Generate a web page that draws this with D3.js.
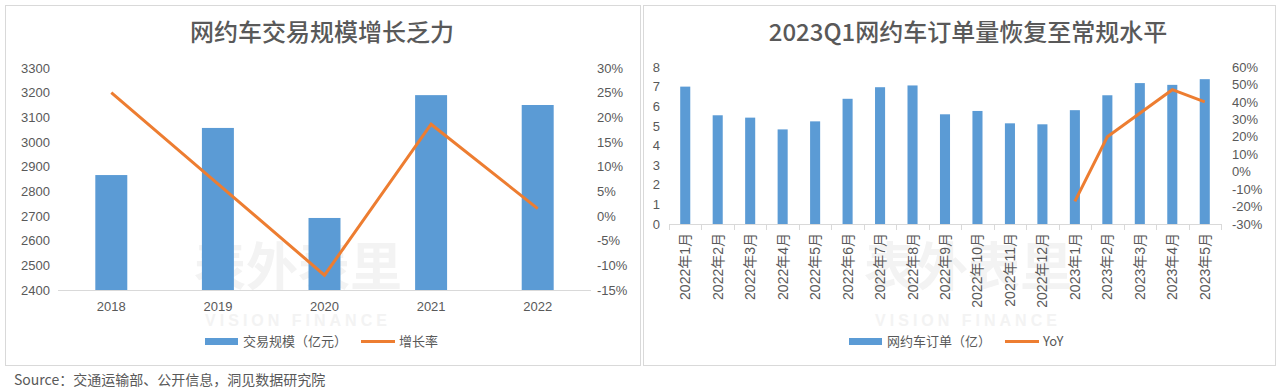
<!DOCTYPE html>
<html>
<head>
<meta charset="utf-8">
<script src="https://cdn.jsdelivr.net/npm/d3@7"></script>
<style>
  body { margin: 0; background: #fff; }
  text { font-family: "Liberation Sans", "Noto Sans CJK SC", sans-serif; }
</style>
</head>
<body>
<script>
// left chart data
var years = ['2018', '2019', '2020', '2021', '2022'];
var volume = [2866, 3057, 2692, 3190, 3150];
var growth = [0.25, 0.065, -0.12, 0.186, 0.015];
var volTicks = [2400, 2500, 2600, 2700, 2800, 2900, 3000, 3100, 3200, 3300];
var growthTicks = [-0.15, -0.10, -0.05, 0, 0.05, 0.10, 0.15, 0.20, 0.25, 0.30];

// right chart data
var months = ['2022年1月', '2022年2月', '2022年3月', '2022年4月', '2022年5月', '2022年6月',
  '2022年7月', '2022年8月', '2022年9月', '2022年10月', '2022年11月', '2022年12月',
  '2023年1月', '2023年2月', '2023年3月', '2023年4月', '2023年5月'];
var orders = [7.0, 5.54, 5.42, 4.82, 5.23, 6.38, 6.97, 7.06, 5.59, 5.76, 5.13, 5.08, 5.8, 6.56, 7.18, 7.09, 7.38];
var yoyMonths = ['2023年1月', '2023年2月', '2023年3月', '2023年4月', '2023年5月'];
var yoy = [-0.17, 0.20, 0.335, 0.47, 0.40];
var orderTicks = [0, 1, 2, 3, 4, 5, 6, 7, 8];
var yoyTicks = [-0.3, -0.2, -0.1, 0, 0.1, 0.2, 0.3, 0.4, 0.5, 0.6];

var w = 1280, h = 392;
var blue = '#5B9BD5', orange = '#ED7D31', grey = '#595959';

var svg = d3.select('body').append('svg')
  .attr('width', w)
  .attr('height', h);

// panel frames
svg.append('rect').attr('x', 5.5).attr('y', 5.5).attr('width', 635).attr('height', 360)
  .attr('fill', '#fff').attr('stroke', '#d9d9d9');
svg.append('rect').attr('x', 643.5).attr('y', 5.5).attr('width', 632).attr('height', 360)
  .attr('fill', '#fff').attr('stroke', '#d9d9d9');

// faint watermark
function watermark(cx, y1, y2) {
  svg.append('text').attr('x', cx).attr('y', y1).attr('text-anchor', 'middle')
    .attr('font-size', 52).attr('font-weight', 'bold').attr('fill', '#f3f3f3')
    .style('font-family', '"Noto Sans CJK SC"').text('表外表里');
  svg.append('text').attr('x', cx).attr('y', y2).attr('text-anchor', 'middle')
    .attr('font-size', 16).attr('font-weight', 'bold').attr('fill', '#f3f3f3')
    .attr('letter-spacing', 4).text('VISION FINANCE');
}
watermark(298, 286, 326);
watermark(968, 286, 326);

function title(cx, txt) {
  svg.append('text').attr('x', cx).attr('y', 41).attr('text-anchor', 'middle')
    .attr('font-size', 24).attr('font-weight', 500).attr('fill', grey)
    .style('font-family', '"Noto Sans CJK SC"').text(txt);
}
title(322, '网约车交易规模增长乏力');
title(968, '2023Q1网约车订单量恢复至常规水平');

function styleAxis(g) {
  g.select('.domain').remove();
  g.selectAll('.tick line').remove();
  g.selectAll('text').attr('fill', grey).attr('font-size', 13);
}

// ---------- left chart ----------
var x1 = d3.scaleBand().domain(years).range([58, 591]).paddingInner(0.7).paddingOuter(0.35);
var y1 = d3.scaleLinear().domain([2400, 3300]).range([290, 68]);
var y1r = d3.scaleLinear().domain([-0.15, 0.30]).range([290, 68]);

svg.append('g').attr('transform', 'translate(52,0)')
  .call(d3.axisLeft(y1).tickValues(volTicks).tickSize(0).tickPadding(2).tickFormat(d3.format('d')))
  .call(styleAxis);
svg.append('g').attr('transform', 'translate(595,0)')
  .call(d3.axisRight(y1r).tickValues(growthTicks).tickSize(0).tickPadding(2)
    .tickFormat(function (d) { return Math.round(d * 100) + '%'; }))
  .call(styleAxis);

svg.selectAll('rect.bar1').data(volume).enter().append('rect')
  .attr('class', 'bar1')
  .attr('x', function (d, i) { return x1(years[i]); })
  .attr('y', function (d) { return y1(d); })
  .attr('width', x1.bandwidth())
  .attr('height', function (d) { return y1(2400) - y1(d); })
  .attr('fill', blue);

svg.append('line').attr('x1', 58).attr('x2', 591)
  .attr('y1', y1(2400) + 0.5).attr('y2', y1(2400) + 0.5).attr('stroke', '#d9d9d9');

svg.append('g').attr('transform', 'translate(0,' + y1(2400) + ')')
  .call(d3.axisBottom(x1).tickSize(0).tickPadding(12))
  .call(styleAxis);

svg.append('path').datum(growth)
  .attr('fill', 'none').attr('stroke', orange).attr('stroke-width', 3)
  .attr('d', d3.line()
    .x(function (d, i) { return x1(years[i]) + x1.bandwidth() / 2; })
    .y(function (d) { return y1r(d); }));

// ---------- right chart ----------
var x2 = d3.scaleBand().domain(months).range([669, 1221]).paddingInner(0.69).paddingOuter(0.345);
var y2 = d3.scaleLinear().domain([0, 8]).range([224, 67]);
var y2r = d3.scaleLinear().domain([-0.3, 0.6]).range([224, 67]);

svg.append('g').attr('transform', 'translate(662,0)')
  .call(d3.axisLeft(y2).tickValues(orderTicks).tickSize(0).tickPadding(2))
  .call(styleAxis);
svg.append('g').attr('transform', 'translate(1230,0)')
  .call(d3.axisRight(y2r).tickValues(yoyTicks).tickSize(0).tickPadding(2)
    .tickFormat(function (d) { return Math.round(d * 100) + '%'; }))
  .call(styleAxis);

svg.selectAll('rect.bar2').data(orders).enter().append('rect')
  .attr('class', 'bar2')
  .attr('x', function (d, i) { return x2(months[i]); })
  .attr('y', function (d) { return y2(d); })
  .attr('width', x2.bandwidth())
  .attr('height', function (d) { return y2(0) - y2(d); })
  .attr('fill', blue);

// category axis with boundary ticks
var xAxis2 = svg.append('g').attr('transform', 'translate(0,' + y2(0) + ')');
xAxis2.append('line').attr('x1', 669).attr('x2', 1221).attr('y1', 0.5).attr('y2', 0.5).attr('stroke', '#d9d9d9');
var bounds = months.map(function (m) { return x2(m) - x2.step() * x2.paddingInner() / 2; });
bounds.push(1221);
xAxis2.selectAll('line.b').data(bounds).enter().append('line')
  .attr('class', 'b')
  .attr('x1', function (d) { return Math.round(d) + 0.5; })
  .attr('x2', function (d) { return Math.round(d) + 0.5; })
  .attr('y1', 0).attr('y2', 6).attr('stroke', '#d9d9d9');
xAxis2.selectAll('text.m').data(months).enter().append('text')
  .attr('class', 'm')
  .attr('transform', function (d) {
    return 'translate(' + (x2(d) + x2.bandwidth() / 2 + 5) + ',9) rotate(-90)';
  })
  .attr('text-anchor', 'end')
  .attr('font-size', 14).attr('fill', grey)
  .text(function (d) { return d; });

svg.append('path').datum(yoy)
  .attr('fill', 'none').attr('stroke', orange).attr('stroke-width', 3)
  .attr('d', d3.line()
    .x(function (d, i) { return x2(yoyMonths[i]) + x2.bandwidth() / 2; })
    .y(function (d) { return y2r(d); }));

// ---------- legends ----------
function legend(x, barLabel, lineLabel, lineX) {
  var g = svg.append('g');
  g.append('rect').attr('x', x).attr('y', 338).attr('width', 33).attr('height', 7).attr('fill', blue);
  g.append('text').attr('x', x + 38).attr('y', 346).attr('font-size', 13).attr('fill', grey)
    .style('font-family', '"Noto Sans CJK SC"').text(barLabel);
  g.append('line').attr('x1', lineX).attr('x2', lineX + 34).attr('y1', 341.5).attr('y2', 341.5)
    .attr('stroke', orange).attr('stroke-width', 3);
  g.append('text').attr('x', lineX + 38).attr('y', 346).attr('font-size', 13).attr('fill', grey)
    .style('font-family', '"Noto Sans CJK SC"').text(lineLabel);
}
legend(205, '交易规模（亿元）', '增长率', 361);
legend(849, '网约车订单（亿）', 'YoY', 1005);

svg.append('text').attr('x', 14).attr('y', 385).attr('font-size', 14).attr('fill', grey)
  .style('font-family', '"Noto Sans CJK SC"')
  .text('Source：交通运输部、公开信息，洞见数据研究院');
</script>
</body>
</html>
